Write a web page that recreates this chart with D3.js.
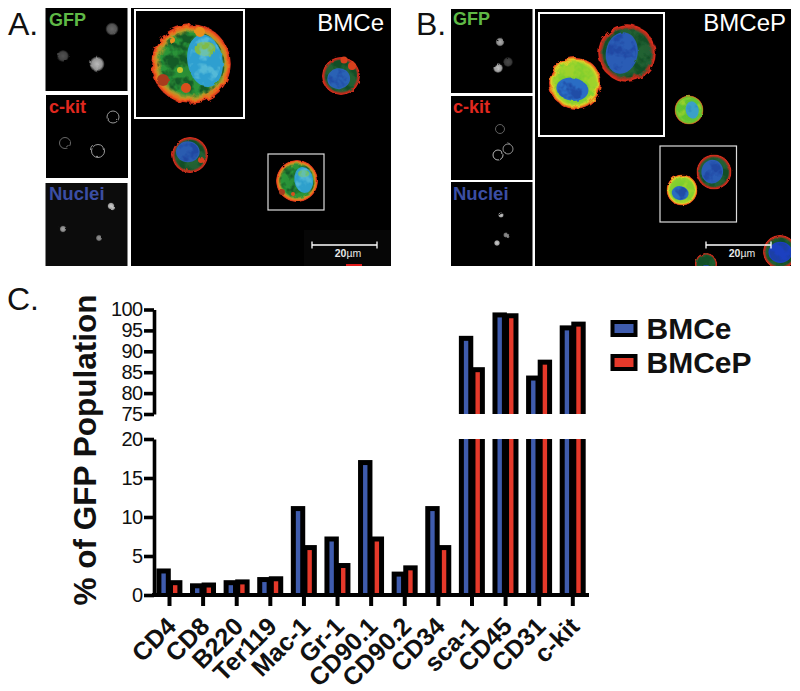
<!DOCTYPE html>
<html><head><meta charset="utf-8">
<script src="https://cdn.jsdelivr.net/npm/d3@7"></script>
<style>html,body{margin:0;padding:0;background:#fff}svg{display:block}text{font-family:"Liberation Sans",Arial,sans-serif}</style>
</head><body><svg id="c" width="800" height="691"></svg>
<script>
// ---- chart data ----
const markers = ["CD4","CD8","B220","Ter119","Mac-1","Gr-1","CD90.1","CD90.2","CD34","sca-1","CD45","CD31","c-kit"];
const bmce  = [3.4,1.5,1.9,2.3,11.4,7.5,17.3,3.0,11.4,93.7,99.3,84.2,96.2];
const bmcep = [1.9,1.6,2.0,2.4,6.4,4.1,7.5,3.8,6.4,86.2,99.1,88.0,97.1];
const seriesNames = ["BMCe","BMCeP"];
const seriesColors = ["#3f5cae","#e5392a"];
const upperTicks = [75,80,85,90,95,100];
const lowerTicks = [0,5,10,15,20];

const svg = d3.select("#c");
const defs = svg.append("defs");

// ---- filters and gradients for the micrographs ----
function rough(id, freq, scale){
  const f = defs.append("filter").attr("id",id).attr("x","-30%").attr("y","-30%").attr("width","160%").attr("height","160%");
  f.append("feTurbulence").attr("type","fractalNoise").attr("baseFrequency",freq).attr("numOctaves",3).attr("seed",4).attr("result","n");
  f.append("feDisplacementMap").attr("in","SourceGraphic").attr("in2","n").attr("scale",scale);
}
rough("r1",0.16,2.6); rough("r2",0.13,6);
defs.append("filter").attr("id","b1").append("feGaussianBlur").attr("stdDeviation",0.6);
defs.append("filter").attr("id","b2").append("feGaussianBlur").attr("stdDeviation",1.6);
// mottled overlay: noise thresholded into patches of the shape's colour
function mottle(id, freq, seed, gain, bias){
  const f = defs.append("filter").attr("id",id).attr("x","0").attr("y","0").attr("width","100%").attr("height","100%");
  f.append("feTurbulence").attr("type","fractalNoise").attr("baseFrequency",freq).attr("numOctaves",3).attr("seed",seed).attr("result","n");
  f.append("feColorMatrix").attr("in","n").attr("type","matrix")
    .attr("values",`0 0 0 0 0 0 0 0 0 0 0 0 0 0 0 ${gain} 0 0 0 ${bias}`).attr("result","a");
  f.append("feComposite").attr("in","SourceGraphic").attr("in2","a").attr("operator","in");
}
mottle("m1",0.09,7,5,-2.2); mottle("m2",0.2,11,6,-2.7); mottle("m3",0.5,3,5,-2.3);
function radial(id, stops){
  const g = defs.append("radialGradient").attr("id",id);
  stops.forEach(s=>g.append("stop").attr("offset",s[0]).attr("stop-color",s[1]));
}
radial("gOrange",[[0,"#2a8a35"],[.74,"#2c9638"],[.85,"#b79a28"],[.92,"#ef6a1e"],[.98,"#d8351f"],[1,"#5a120a"]]);
radial("gRed",[[0,"#1f6a2e"],[.8,"#245e34"],[.9,"#a8301d"],[.97,"#dd2c1d"],[1,"#5a120a"]]);
radial("gYellow",[[0,"#74c92f"],[.76,"#86d12e"],[.87,"#dcd22a"],[.94,"#ec7a1f"],[.99,"#cf2a1b"],[1,"#5a120a"]]);
radial("gGreen",[[0,"#5cc02f"],[.84,"#62c430"],[.93,"#9aa528"],[.98,"#c23a1e"],[1,"#4a120a"]]);
radial("gGrey",[[0,"#cfcfcf"],[.7,"#a5a5a5"],[1,"#222"]]);

function panel(x,y,w,h,fill){
  svg.append("rect").attr("x",x).attr("y",y).attr("width",w).attr("height",h).attr("fill",fill||"#000");
}
function cell(cx,cy,r,kind,nuc){
  const g = svg.append("g");
  const big = r>24;
  g.append("circle").attr("cx",cx).attr("cy",cy).attr("r",r)
    .attr("fill","url(#"+kind+")").attr("filter",big?"url(#r2)":"url(#r1)");
  // dark and bright patches over the cytoplasm
  g.append("circle").attr("cx",cx).attr("cy",cy).attr("r",r*.84).attr("fill",kind==="gYellow"||kind==="gGreen"?"#a8d52c":"#0f4a22").attr("filter","url(#m1)").attr("opacity",.75);
  const n = g.append("g").attr("filter",big?"url(#r1)":"url(#b1)");
  const nx = cx+nuc[0]*r, ny = cy+nuc[1]*r;
  n.append("ellipse").attr("cx",nx).attr("cy",ny).attr("rx",nuc[2]*r).attr("ry",nuc[3]*r)
    .attr("fill",nuc[4]).attr("transform","rotate("+nuc[5]+" "+nx+" "+ny+")");
  g.append("ellipse").attr("cx",nx).attr("cy",ny).attr("rx",nuc[2]*r*.9).attr("ry",nuc[3]*r*.9)
    .attr("fill",nuc[7]||"#1c3f9c").attr("filter","url(#m1)").attr("opacity",.7);
  if(nuc[6]) n.append("ellipse").attr("cx",nx).attr("cy",cy+(nuc[1]-.3)*r).attr("rx",nuc[2]*r*.6).attr("ry",nuc[3]*r*.28).attr("fill",nuc[6]);
  return g;
}
function blotch(g,cx,cy,r,color){
  g.append("circle").attr("cx",cx).attr("cy",cy).attr("r",r).attr("fill",color).attr("filter","url(#r1)");
}
function label(x,y,t,size,fill,weight,anchor){
  return svg.append("text").attr("x",x).attr("y",y).text(t).attr("font-size",size).attr("fill",fill)
    .attr("font-weight",weight||"normal").attr("text-anchor",anchor||"start");
}
function grey(cx,cy,r,kind,op){
  if(kind==="ring") svg.append("circle").attr("cx",cx).attr("cy",cy).attr("r",r).attr("fill","none").attr("stroke","#d5d5d5").attr("stroke-width",.9).attr("opacity",op).attr("filter","url(#r1)");
  else svg.append("circle").attr("cx",cx).attr("cy",cy).attr("r",r).attr("fill","url(#gGrey)").attr("opacity",op).attr("filter","url(#r1)");
}
function scaleBar(x0,x1,yy,tx){
  svg.append("rect").attr("x",x0-8).attr("y",230).attr("width",x1-x0+22).attr("height",36).attr("fill","#060606");
  svg.append("path").attr("d",`M${x0},${yy-3.5}V${yy+3.5}M${x0},${yy}H${x1}M${x1},${yy-3.5}V${yy+3.5}`).attr("stroke","#fff").attr("stroke-width",1.3).attr("fill","none");
  const t = label(tx,257,"20",10.5,"#e8e8e8","bold","middle");
  t.append("tspan").text("µm").attr("font-weight","normal");
}

// ---- panel A ----
panel(45.5,8,82,83); panel(46,95,82,83); panel(45.5,183,82,83,"#0c0c0c"); panel(131,8,260,258);
grey(112,29,6.5,"blob",.5); grey(63,56,6,"blob",.4); grey(97,64,7.5,"blob",.9);
grey(113,117,6,"ring",.8); grey(65,143,5.5,"ring",.55); grey(98,151,6.5,"ring",.8);
grey(111,206,3.6,"blob",1); grey(63,229,3.4,"blob",.8); grey(99,238,3.2,"blob",.7);
label(49,26,"GFP",18,"#5fb946","bold"); label(49,113,"c-kit",18,"#e0281f","bold"); label(49,200,"Nuclei",18.5,"#3b4ea3","bold");
label(8,35,"A.",32,"#111");

let c = cell(341,76,19,"gRed",[-.12,.14,.6,.55,"#2b62b5",-10]); blotch(c,352,66,4,"#d8401f"); blotch(c,344,60,3.5,"#d8401f");
c = cell(190,155,18,"gRed",[-.12,-.18,.66,.58,"#2b5cb0",0]); blotch(c,201,160,3,"#d8401f"); blotch(c,186,170,2,"#b33a1c");
c = cell(297,181,21,"gOrange",[.32,-.05,.45,.62,"#2fa0cc",-8,"#6fbf4a","#5fc0d8"]); blotch(c,282,192,3,"#a83a1c"); blotch(c,293,194,2,"#d8501f");
c = cell(191,64,40,"gOrange",[.35,-.08,.44,.66,"#2f9fd0",-10,"#7fbb4a","#63c4dc"]);
blotch(c,163,80,6,"#a83a1c"); blotch(c,186,88,5,"#d8501f"); blotch(c,180,70,3,"#c4c52a"); blotch(c,200,32,5,"#e8901f"); blotch(c,172,40,3,"#e8901f");
svg.append("rect").attr("x",135).attr("y",10).attr("width",109).attr("height",108).attr("fill","none").attr("stroke","#fff").attr("stroke-width",2);
svg.append("rect").attr("x",268).attr("y",154).attr("width",56).attr("height",56).attr("fill","none").attr("stroke","#ddd").attr("stroke-width",1.2);
label(384,31,"BMCe",24,"#fff","normal","end");
scaleBar(312,377,245,348);
svg.append("rect").attr("x",346).attr("y",264).attr("width",16).attr("height",2).attr("fill","#e01a1a");

// ---- panel B ----
panel(451,9,81.5,84); panel(451,96,81.5,84); panel(451,182,81.5,84); panel(535,9,256,257);
grey(500,42,4.4,"blob",.85); grey(498,68,5,"blob",.95); grey(508,62,5,"blob",.35);
grey(500,129,4.5,"ring",.5); grey(498,155,5,"ring",.95); grey(508,149,5,"ring",.75);
grey(501,215,2.8,"blob",1); grey(506,235,2.8,"blob",.7); grey(497,243,3,"blob",1);
label(453,25,"GFP",18,"#5fb946","bold"); label(453,113,"c-kit",18,"#e0281f","bold"); label(453,200,"Nuclei",18.5,"#3b4ea3","bold");
label(416,35,"B.",32,"#111");

cell(689,110,14.5,"gGreen",[.22,.0,.45,.6,"#3aa0c8",-10,null,"#2a7fc0"]);
cell(682,190,15.5,"gYellow",[-.12,.2,.55,.45,"#2c6dc0",10]);
cell(714,172,17.5,"gRed",[-.1,-.02,.62,.68,"#2a5cb5",10]);
cell(575,83,26,"gYellow",[-.1,.24,.62,.44,"#2c6dc4",10]);
cell(627,53,29,"gRed",[-.18,0,.55,.72,"#2a5cb5",10]);
cell(780,252,17,"gRed",[.02,.02,.7,.62,"#1f3fc0",0]);
cell(706,264,11,"gRed",[0,.5,.5,.4,"#2a5cb5",0]);
svg.append("rect").attr("x",539).attr("y",13).attr("width",125).attr("height",123).attr("fill","none").attr("stroke","#fff").attr("stroke-width",2);
svg.append("rect").attr("x",660).attr("y",146).attr("width",76.5).attr("height",76).attr("fill","none").attr("stroke","#ddd").attr("stroke-width",1.2);
label(786,31,"BMCeP",24,"#fff","normal","end");
svg.append("path").attr("d","M706,241.5V248.5M706,245H771M771,241.5V248.5").attr("stroke","#fff").attr("stroke-width",1.3).attr("fill","none");
const tb = label(742,257,"20",10.5,"#e8e8e8","bold","middle"); tb.append("tspan").text("µm").attr("font-weight","normal");
// cover bleed of the cells past the panel edge
svg.append("rect").attr("x",0).attr("y",266).attr("width",800).attr("height",30).attr("fill","#fff");
svg.append("rect").attr("x",791).attr("y",0).attr("width",9).attr("height",280).attr("fill","#fff");

// ---- panel C: broken-axis bar chart ----
label(7,310,"C.",32,"#111");
const x = d3.scalePoint().domain(markers).range([169,572.3]);
const yUp = d3.scaleLinear().domain([75,100]).range([414,309.5]);
const yLo = d3.scaleLinear().domain([0,20]).range([595,439]);
const sw = 5, barW = 9.4;
const off = [-5.4,6.2];
const series = [bmce,bmcep];

[["up",yUp,75],["lo",yLo,0]].forEach(([id,y,base])=>{
  const top = y(y.domain()[1]), bottom = y(base);
  defs.append("clipPath").attr("id","clip"+id).append("rect").attr("x",140).attr("width",460)
    .attr("y",id==="up"?top-6:top).attr("height",id==="up"?bottom-top+6:bottom-top);
  const g = svg.append("g").attr("clip-path","url(#clip"+id+")");
  series.forEach((vals,si)=>{
    g.selectAll("rect.s"+si).data(markers.map((m,i)=>({m,v:vals[i]})).filter(d=>d.v>base)).join("rect")
      .attr("class","s"+si)
      .attr("x",d=>x(d.m)+off[si]-barW/2)
      .attr("width",barW)
      .attr("y",d=>y(d.v)+sw/2)
      .attr("height",d=>Math.max(0,y(base)-y(d.v)+10))
      .attr("fill",seriesColors[si]).attr("stroke","#000").attr("stroke-width",sw);
  });
});

function styleAxis(g,fs,w){
  g.selectAll(".domain").attr("stroke","#000").attr("stroke-width",w);
  g.selectAll(".tick line").attr("stroke","#000").attr("stroke-width",w);
  g.selectAll("text").attr("fill","#111").attr("font-size",fs).style("font-family",'"Liberation Sans",Arial,sans-serif');
}
const gu = svg.append("g").attr("transform","translate(154,0)").call(d3.axisLeft(yUp).tickValues(upperTicks).tickSize(10).tickPadding(1.5).tickSizeOuter(0));
styleAxis(gu,20,3.6);
const gl = svg.append("g").attr("transform","translate(154,0)").call(d3.axisLeft(yLo).tickValues(lowerTicks).tickSize(10).tickPadding(1.5).tickSizeOuter(0));
styleAxis(gl,20,3.6);
[gu,gl].forEach(g=>g.selectAll("text").attr("letter-spacing",-.6));
const gx = svg.append("g").attr("transform","translate(0,595)").call(d3.axisBottom(x).tickSize(11).tickSizeOuter(0).tickPadding(6));
gx.select(".domain").attr("d","M152,0H589");
styleAxis(gx,25,4);
gx.selectAll("text").attr("font-weight","bold").attr("text-anchor","end").attr("dy",0).attr("x",0).attr("y",0)
  .attr("transform","translate(8,33) rotate(-45)");

svg.append("text").attr("transform","translate(96,450) rotate(-90)").attr("text-anchor","middle")
  .attr("font-size",31.5).attr("font-weight","bold").attr("fill","#111").text("% of GFP Population");

// ---- legend ----
const legY = d3.scalePoint().domain(seriesNames).range([328.5,362.5]);
const leg = svg.append("g").selectAll("g").data(seriesNames).join("g")
  .attr("transform",d=>`translate(0,${legY(d)})`);
leg.append("rect").attr("x",612.5).attr("y",-6.5).attr("width",23).attr("height",13)
  .attr("fill",(d,i)=>seriesColors[i]).attr("stroke","#000").attr("stroke-width",4);
leg.append("text").attr("x",646.5).attr("y",10).attr("font-size",30).attr("font-weight","bold").attr("fill","#111").text(d=>d);
</script></body></html>
